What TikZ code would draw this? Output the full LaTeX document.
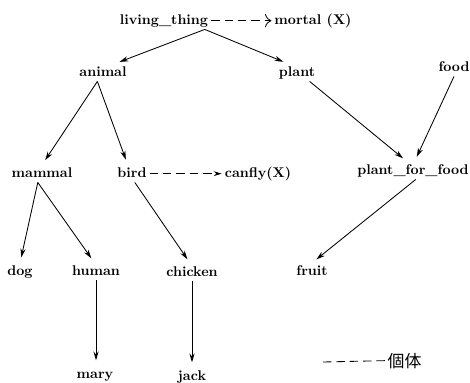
\documentclass[tikz,border=0pt]{standalone}
\usepackage{fontspec}
\usepackage{tikz}
\usetikzlibrary{arrows.meta}
\newfontfamily\cjk{Noto Sans CJK JP}

\begin{document}
\begin{tikzpicture}[x=0.025cm, y=-0.025cm,
        concept/.style={anchor=base, font=\bfseries, inner xsep=2pt, inner ysep=1.5pt, text height=1.6ex, text depth=0.5ex},
        isa/.style={draw=black, line width=0.6pt, shorten >=4pt, -{Stealth[length=2.2mm, width=1.3mm]}},
        attr/.style={draw=black, line width=0.6pt, dash pattern=on 6pt off 3.5pt},
        legendtext/.style={anchor=base west, font=\cjk\fontsize{12}{14}\selectfont, inner sep=1pt}
    ]
        \useasboundingbox (0,0) rectangle (470,383);

        \foreach \name/\x/\y/\txt in {living/164/24/living\_thing, mortal/313/24/mortal (X),
                animal/103/76/animal, plant/297/76/plant, food/454/71/food,
                mammal/42/177/mammal, bird/132/177/bird, canfly/258/177/canfly(X), pff/413/174/plant\_for\_food,
                dog/20/275/dog, human/96/275/human, chicken/192/276/chicken, fruit/312/275/fruit,
                mary/95/378/mary, jack/192/380/jack}
            \node[concept] (\name) at (\x,\y) {\txt};

        \foreach \a/\da/\b/\db in {living/29/animal/8, living/29/plant/-6,
                animal/-4/mammal/0, animal/-4/bird/-3,
                mammal/-3/dog/0, mammal/-3/human/-1, bird/2/chicken/-1,
                plant/9/pff/-4, food/0/pff/1, pff/2/fruit/0}
            \draw[isa] ([xshift=\da pt]\a.south) -- ([xshift=\db pt]\b.north);

        \draw[isa] (human.south) -- (human.south |- mary.north);
        \draw[isa] (chicken.south) -- (chicken.south |- jack.north);

        \draw[attr, -{To[length=1.6mm]}] (living.east) -- (mortal.west);
        \draw[attr, -{Stealth[length=2mm, width=1.2mm]}] (bird.east) -- (canfly.west);

        \node[legendtext] (legend) at (386,367) {個体};
        \coordinate (legstart) at (323,362);
        \draw[attr] (legstart) -- (legend.west);
    \end{tikzpicture}
\end{document}
